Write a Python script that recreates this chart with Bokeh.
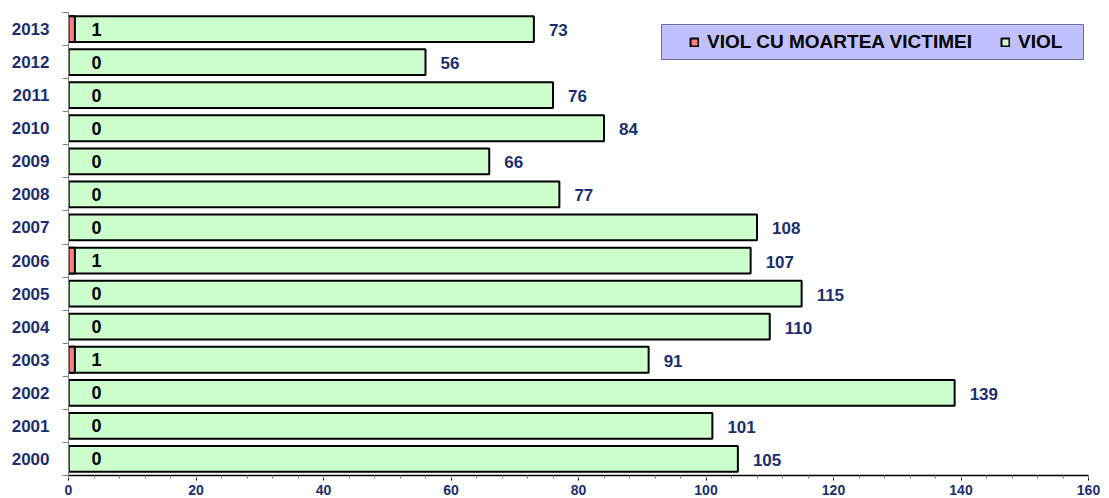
from bokeh.plotting import figure
from bokeh.models import (ColumnDataSource, LabelSet, Legend, LegendItem, FixedTicker,
                          Range1d, BoxAnnotation, SingleIntervalTicker)
from bokeh.core.properties import value
from bokeh.embed import file_html
from bokeh.resources import INLINE

years = ["2000", "2001", "2002", "2003", "2004", "2005", "2006",
         "2007", "2008", "2009", "2010", "2011", "2012", "2013"]
viol = [105, 101, 139, 91, 110, 115, 107, 108, 77, 66, 84, 76, 56, 73]
viol_moarte = [0, 0, 0, 1, 0, 0, 1, 0, 0, 0, 0, 0, 0, 1]
x_max = 160

NAVY = "#1C2E6B"
SANS = "Liberation Sans"

n = len(years)
ypos = list(range(n))
src = ColumnDataSource(dict(
    y=ypos, viol=viol, moarte=viol_moarte,
    vlab=[str(v) for v in viol], mlab=[str(v) for v in viol_moarte],
))

p = figure(width=1100, height=497, x_range=Range1d(0, x_max),
           y_range=Range1d(-0.5, n - 0.5), output_backend="svg",
           toolbar_location=None, min_border_left=68, min_border_right=12,
           min_border_top=12, min_border_bottom=0)
p.outline_line_color = None
p.grid.visible = False
p.background_fill_color = "white"

g = p.hbar(y="y", left=0, right="viol", height=0.78, fill_color="#CCFFCC",
           line_color="black", line_width=2, source=src)
r = p.hbar(y="y", left=0, right="moarte", height=0.78, fill_color="#FF7F7F",
           line_color="black", line_width=2, source=src)

# value labels
p.add_layout(LabelSet(x="viol", y="y", text="vlab", source=src, x_offset=15, y_offset=-1,
                      text_align="left", text_baseline="middle", text_font=value(SANS),
                      text_font_size="17px", text_font_style="bold", text_color=NAVY))
p.add_layout(LabelSet(x=0, y="y", text="mlab", source=src, x_offset=28,
                      text_align="center", text_baseline="middle", text_font=value(SANS),
                      text_font_size="18px", text_font_style="bold", text_color="black"))

# x axis
xa = p.xaxis[0]
xa.ticker = SingleIntervalTicker(interval=20, num_minor_ticks=5)
xa.axis_line_color = "black"
xa.axis_line_width = 1.5
xa.major_tick_out = 5
xa.major_tick_in = 0
xa.major_tick_line_color = "black"
xa.minor_tick_out = 3
xa.minor_tick_in = 0
xa.minor_tick_line_color = "#808080"
xa.major_label_standoff = 4
xa.major_label_text_font = SANS
xa.major_label_text_font_size = "14px"
xa.major_label_text_font_style = "bold"
xa.major_label_text_color = NAVY

# y axis
ya = p.yaxis[0]
ya.ticker = FixedTicker(ticks=ypos, minor_ticks=[i - 0.5 for i in range(n + 1)])
ya.major_label_overrides = {i: years[i] for i in ypos}
ya.axis_line_color = "#808080"
ya.major_tick_out = 0
ya.major_tick_in = 0
ya.minor_tick_out = 6
ya.minor_tick_in = 0
ya.minor_tick_line_color = "#808080"
ya.major_label_standoff = 13
ya.major_label_text_font = SANS
ya.major_label_text_font_size = "17px"
ya.major_label_text_font_style = "bold"
ya.major_label_text_color = NAVY

# legend box
box = BoxAnnotation(left=661, right=1083, top=24, bottom=59,
                    left_units="canvas", right_units="canvas",
                    top_units="canvas", bottom_units="canvas",
                    fill_color="#C0C0FF", fill_alpha=1.0,
                    line_color="#6E6E90", line_width=1, line_alpha=1.0)
p.add_layout(box)

legend = Legend(items=[LegendItem(label="VIOL CU MOARTEA VICTIMEI", renderers=[r]),
                       LegendItem(label="VIOL", renderers=[g])],
                orientation="horizontal", location=(621, 422),
                glyph_width=10, glyph_height=10, label_standoff=8, spacing=28,
                padding=7, margin=0, background_fill_alpha=0, border_line_color=None,
                label_text_font=SANS, label_text_font_size="19px",
                label_text_font_style="bold", label_text_color="black")
p.add_layout(legend)

open("out.html", "w").write(file_html(p, INLINE))
